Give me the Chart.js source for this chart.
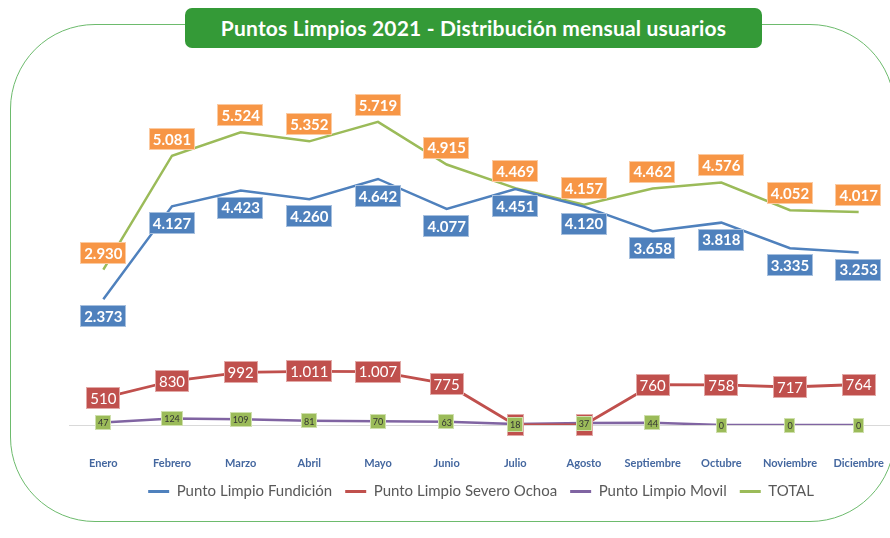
<!DOCTYPE html>
<html>
<head>
<meta charset="utf-8">
<script src="https://cdn.jsdelivr.net/npm/chart.js@4/dist/chart.umd.min.js"></script>
<style>
  html, body { margin: 0; padding: 0; background: #fff; overflow: hidden; width: 890px; height: 538px; }
  #frame { position: absolute; left: 10px; top: 24px; width: 885px; height: 498px;
           border: 1.5px solid #6dbb6d; border-radius: 85px; box-sizing: border-box; }
  #title { position: absolute; left: 185px; top: 8px; width: 577px; height: 40px;
           background: #349a37; border-radius: 7px; color: #fff; font-family: Lato, sans-serif;
           font-weight: bold; font-size: 21px; line-height: 40px; text-align: center; letter-spacing: 0.2px; }
  #wrap { position: absolute; left: 0; top: 0; width: 900px; height: 538px; }
</style>
</head>
<body>
<div id="frame"></div>
<div id="title">Puntos Limpios 2021 - Distribución mensual usuarios</div>
<div id="wrap"><canvas id="c" width="900" height="538"></canvas></div>
<script>
const categories = ['Enero','Febrero','Marzo','Abril','Mayo','Junio','Julio','Agosto','Septiembre','Octubre','Noviembre','Diciembre'];
const fundicion = [2373,4127,4423,4260,4642,4077,4451,4120,3658,3818,3335,3253];
const severoOchoa = [510,830,992,1011,1007,775,0,0,760,758,717,764];
const movil = [47,124,109,81,70,63,18,37,44,0,0,0];
const total = [2930,5081,5524,5352,5719,4915,4469,4157,4462,4576,4052,4017];
const seriesNames = ['Punto Limpio Fundición','Punto Limpio Severo Ochoa','Punto Limpio Movil','TOTAL'];

function fmt(v){ return String(v).replace(/\B(?=(\d{3})+(?!\d))/g, '.'); }

const labelStyles = [
  { pos: 'below', bg: '#4f81bd', border: '#a7c0de', color: '#fff', font: 'bold 15px Lato', h: 22, padX: 4 },
  { pos: 'center', bg: '#c0504d', border: '#e2a9a7', color: '#fff', font: '15px Lato', h: 22, padX: 4 },
  { pos: 'center', bg: '#9bbb59', border: '#cfe0ad', color: '#333', font: '9px Lato', h: 15, padX: 3 },
  { pos: 'above', bg: '#f79646', border: '#fbcba3', color: '#fff', font: 'bold 15px Lato', h: 22, padX: 4 }
];

const boxLabels = {
  id: 'boxLabels',
  afterDatasetsDraw(chart) {
    const ctx = chart.ctx;
    ctx.save();
    chart.data.datasets.forEach((ds, di) => {
      const st = labelStyles[di];
      const meta = chart.getDatasetMeta(di);
      meta.data.forEach((pt, i) => {
        const txt = fmt(ds.data[i]);
        ctx.font = st.font;
        const tw = ctx.measureText(txt).width;
        const w = tw + st.padX * 2;
        let cy = pt.y;
        if (st.pos === 'above') cy = pt.y - 17;
        if (st.pos === 'below') cy = pt.y + 17;
        const x0 = Math.round(pt.x - w / 2), y0 = Math.round(cy - st.h / 2);
        ctx.fillStyle = st.bg;
        ctx.fillRect(x0, y0, Math.round(w), st.h);
        ctx.strokeStyle = st.border;
        ctx.lineWidth = 1;
        ctx.strokeRect(x0 + 0.5, y0 + 0.5, Math.round(w) - 1, st.h - 1);
        ctx.fillStyle = st.color;
        ctx.textAlign = 'center';
        ctx.textBaseline = 'middle';
        ctx.fillText(txt, pt.x, cy + 1);
      });
    });
    ctx.restore();
  }
};

const colors = ['#4f81bd', '#c0504d', '#8064a2', '#9bbb59'];
const dataSeries = [fundicion, severoOchoa, movil, total];

new Chart(document.getElementById('c'), {
  type: 'line',
  data: {
    labels: categories,
    datasets: dataSeries.map((d, i) => ({
      label: seriesNames[i],
      data: d,
      borderColor: colors[i],
      backgroundColor: colors[i],
      borderWidth: i === 1 ? 2.8 : 2.5,
      pointRadius: 0,
      tension: 0,
      fill: false
    }))
  },
  options: {
    responsive: false,
    animation: false,
    layout: { padding: { left: 69, right: 7, top: 107, bottom: 29 } },
    scales: {
      x: {
        offset: true,
        grid: { display: true, drawOnChartArea: false, drawTicks: true, tickLength: 32, color: 'rgba(0,0,0,0)', offset: true },
        border: { display: true, color: '#d9d9d9', width: 1 },
        ticks: { color: '#44679f', font: { family: 'Lato', size: 11, weight: 'bold' }, padding: 0, maxRotation: 0, autoSkip: false },
        afterFit(scale) { scale.height = 46; }
      },
      y: { display: false, min: 0, max: 6000 }
    },
    plugins: {
      legend: {
        position: 'bottom',
        labels: {
          color: '#595959',
          font: { family: 'Lato', size: 15 },
          boxWidth: 21,
          boxHeight: 3,
          padding: 13,
          generateLabels(chart) {
            return Chart.defaults.plugins.legend.labels.generateLabels(chart).map(it => Object.assign(it, { lineWidth: 0 }));
          }
        }
      },
      tooltip: { enabled: false },
      title: { display: false }
    }
  },
  plugins: [boxLabels]
});
</script>
</body>
</html>
